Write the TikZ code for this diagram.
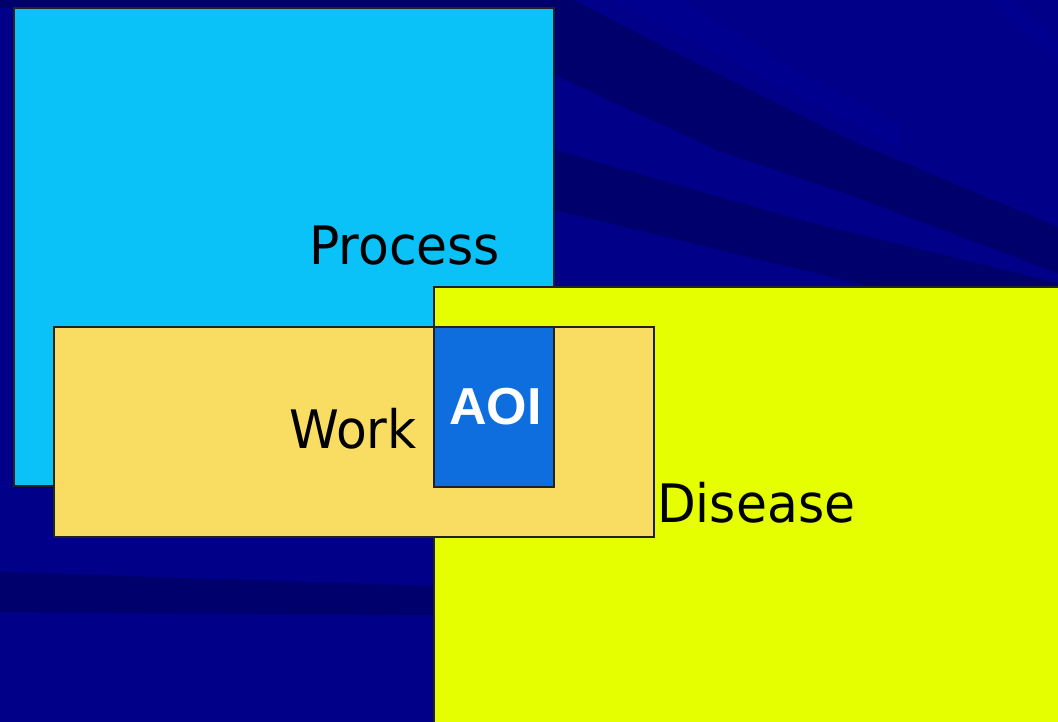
\documentclass[tikz,border=0pt]{standalone}
\usepackage{fontspec}
\setmainfont[FakeStretch=0.95]{DejaVu Sans}
\newfontfamily\aoifont{Liberation Sans}
\definecolor{bgbase}{HTML}{000088}
\definecolor{bgdark}{HTML}{00006C}
\definecolor{bglight}{HTML}{00008F}
\definecolor{proccyan}{HTML}{0AC2F8}
\definecolor{disyellow}{HTML}{E5FF00}
\definecolor{workgold}{HTML}{F8DD62}
\definecolor{aoiblue}{HTML}{0E6EDE}
\definecolor{edge}{HTML}{222222}
\tikzset{
  area/.style={draw=edge, line width=1.3pt, anchor=north west, inner sep=0pt, outer sep=0pt},
  label/.style={anchor=base west, inner sep=0pt, font=\fontsize{53}{60}\selectfont, text=black},
}
\begin{document}
\begin{tikzpicture}[x=1pt, y=-1pt]
\useasboundingbox (0,0) rectangle (1058,722);
\clip (0,0) rectangle (1058,722);
% backdrop with soft diagonal streaks
\fill[bgbase] (0,0) rectangle (1058,722);
\fill[bgdark] (0,0) rectangle (560,8);
\fill[bgdark] (555,0) -- (573,0) -- (700,65) -- (850,140) -- (1058,227)
  -- (1058,273) -- (850,195) -- (717,150) -- (555,75) -- cycle;
\fill[bgdark] (555,150) -- (800,220) -- (1058,283) -- (1058,300)
  -- (873,287) -- (700,245) -- (555,210) -- cycle;
\fill[bglight] (613,0) -- (683,0) -- (800,72) -- (900,125) -- (900,150)
  -- (800,97) -- cycle;
\fill[bglight] (987,0) -- (1013,0) -- (1058,40) -- (1058,63) -- cycle;
\fill[bgdark] (0,572) -- (434,586) -- (434,615) -- (0,612) -- cycle;
% overlapping areas
\node[area, fill=proccyan, minimum width=540pt, minimum height=478pt] (process) at (14,8) {};
\node[area, fill=disyellow, minimum width=640pt, minimum height=450pt] (disease) at (434,287) {};
\node[area, fill=workgold, minimum width=600pt, minimum height=210pt] (work) at (54,327) {};
\node[area, fill=aoiblue, minimum width=120pt, minimum height=160pt] (aoi) at (434,327) {};
% labels
\node[label] (processlabel) at (309,265) {Process};
\node[label] (worklabel) at (289,448) {Work};
\node[label] (diseaselabel) at (657,522) {Disease};
\node[anchor=base west, inner sep=0pt, text=white, font=\aoifont\bfseries\fontsize{52}{60}\selectfont] (aoilabel) at (449,424) {AOI};
\end{tikzpicture}
\end{document}
